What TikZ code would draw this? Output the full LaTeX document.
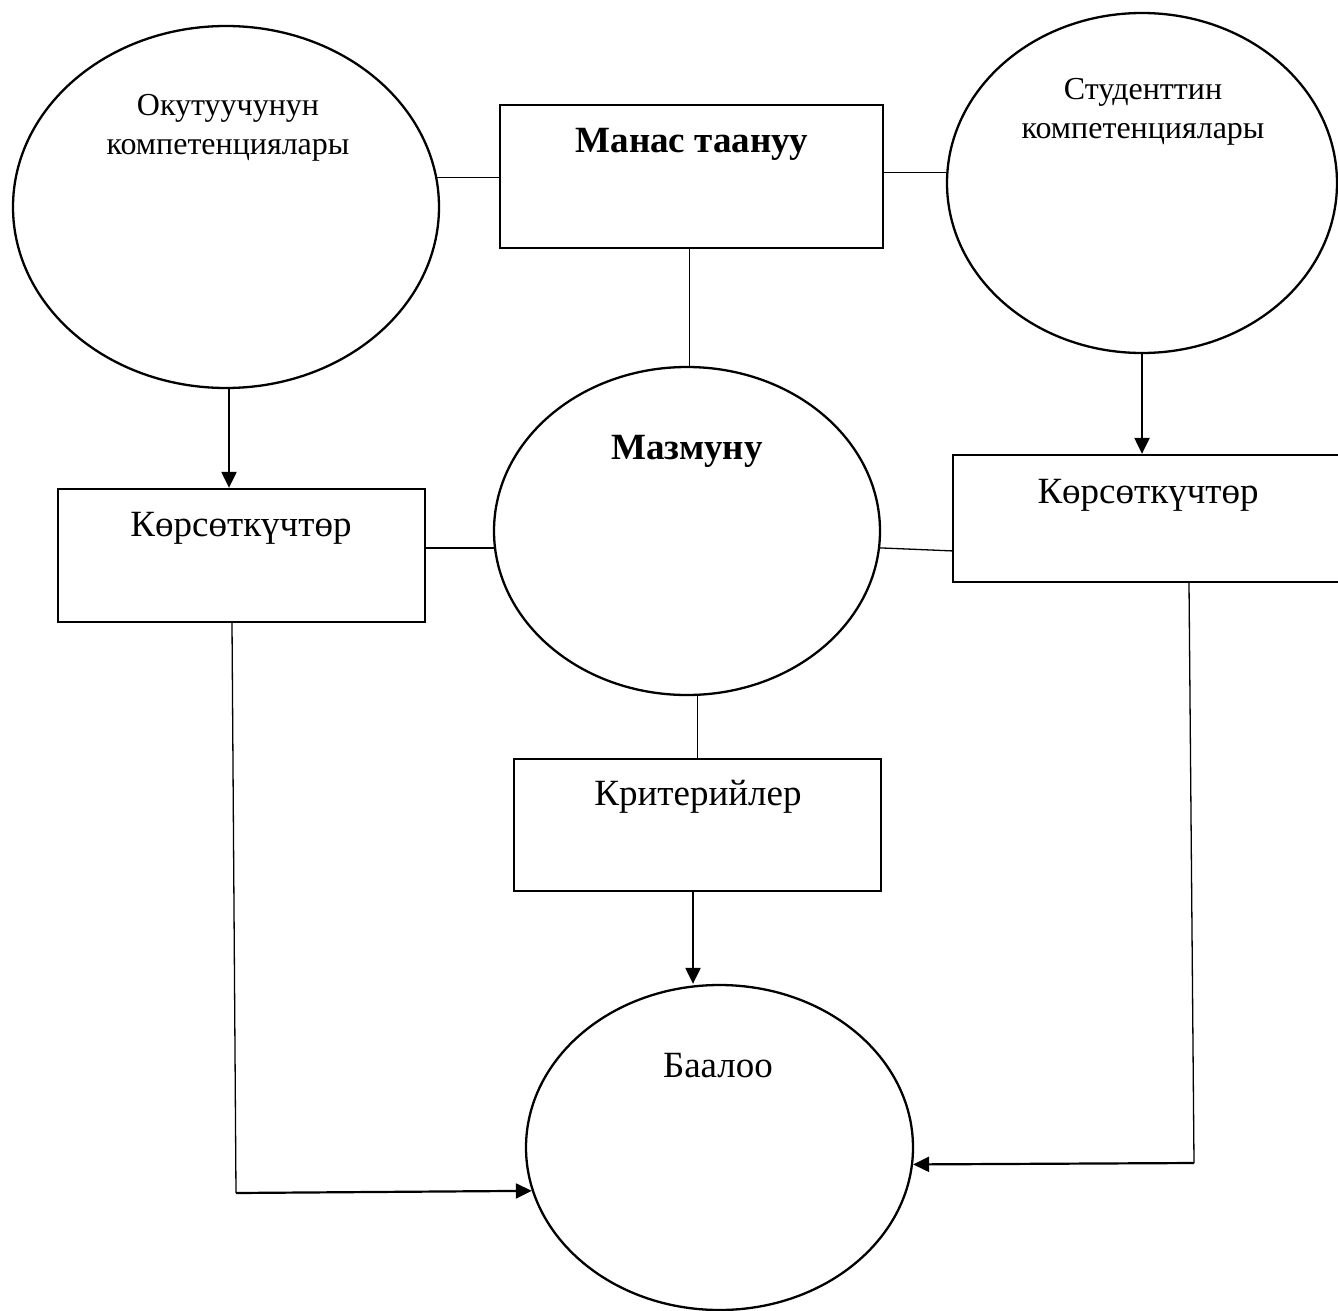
\documentclass[tikz,border=0pt]{standalone}
\usepackage{fontspec}
\setmainfont{Liberation Serif}
\usetikzlibrary{shapes.geometric,arrows.meta,calc}
\tikzset{
  oval/.style={draw, ellipse, line width=2.3pt, inner sep=0pt},
  boxshape/.style={draw, rectangle, line width=2.3pt, inner sep=0pt},
  lbl/.style={anchor=base, inner sep=0pt},
  link/.style={line width=1.3pt},
  arr/.style={line width=2.2pt, -{Triangle[length=16pt,width=15pt]}},
}
\begin{document}
\begin{tikzpicture}[x=1pt,y=1pt]
\useasboundingbox (0,0) rectangle (1338,-1311);
\clip (0,0) rectangle (1338,-1311);
\fill[white] (0,0) rectangle (1338,-1311);
% shapes
\node[oval, minimum width=426pt, minimum height=362pt] (teach) at (226,-207) {};
\node[boxshape, minimum width=383pt, minimum height=143pt] (manas) at (691.5,-176.5) {};
\node[oval, minimum width=390pt, minimum height=340pt] (stud) at (1142,-183) {};
\node[boxshape, minimum width=367pt, minimum height=133pt] (ind1) at (241.5,-555.5) {};
\node[oval, minimum width=386pt, minimum height=328pt] (mazm) at (687,-531) {};
\node[boxshape, minimum width=400pt, minimum height=127pt] (ind2) at (1153,-518.5) {};
\node[boxshape, minimum width=367pt, minimum height=132pt] (crit) at (697.5,-825) {};
\node[oval, minimum width=387pt, minimum height=325pt] (eval) at (719.5,-1147.5) {};
% texts
\node[lbl, font=\fontsize{32}{38}\selectfont] (teachA) at (228,-116) {Окутуучунун};
\node[lbl, font=\fontsize{32}{38}\selectfont] (teachB) at (228,-154) {компетенциялары};
\node[lbl, font=\fontsize{32}{38}\selectfont] (studA) at (1143,-100) {Студенттин};
\node[lbl, font=\fontsize{32}{38}\selectfont] (studB) at (1143,-139) {компетенциялары};
\node[lbl, font=\fontsize{37}{44}\selectfont\bfseries] (manasT) at (692,-152) {Манас таануу};
\node[lbl, font=\fontsize{37}{44}\selectfont\bfseries] (mazmT) at (687,-459) {Мазмуну};
\node[lbl, font=\fontsize{37}{44}\selectfont] (ind1T) at (241,-536) {Көрсөткүчтөр};
\node[lbl, font=\fontsize{37}{44}\selectfont] (ind2T) at (1148,-503) {Көрсөткүчтөр};
\node[lbl, font=\fontsize{37}{44}\selectfont] (critT) at (698,-805) {Критерийлер};
\node[lbl, font=\fontsize{37}{44}\selectfont] (evalT) at (718,-1077) {Баалоо};
% plain links
\draw[link] (teach.8) -- (teach.8 -| manas.west);
\draw[link] (manas.east |- stud.177) -- (stud.177);
\draw[link] ([xshift=-2pt]manas.south) -- ([xshift=-2pt]manas.south |- mazm.north);
\draw[link] (ind1.east |- mazm.185) -- (mazm.185);
\draw[link] (mazm.355) -- ([yshift=-3pt]mazm.355 -| ind2.west);
\draw[link] (crit.north |- mazm.south) -- (crit.north);
% arrows
\draw[arr] ([xshift=3pt]teach.south) -- ([xshift=3pt]teach.south |- ind1.north);
\draw[arr] (stud.south) -- (stud.south |- ind2.north);
\draw[arr] ([xshift=-4.5pt]crit.south) -- ([xshift=-4.5pt]crit.south |- eval.north);
\coordinate (c1) at (236,-1193);
\coordinate (c2) at (1194,-1163);
\draw[link] ([xshift=-9.5pt]ind1.south) -- (c1);
\draw[arr] (c1) -- (eval.193);
\draw[link] ([xshift=36pt]ind2.south) -- (c2);
\draw[arr] (c2) -- (eval.355.5);
\end{tikzpicture}
\end{document}
